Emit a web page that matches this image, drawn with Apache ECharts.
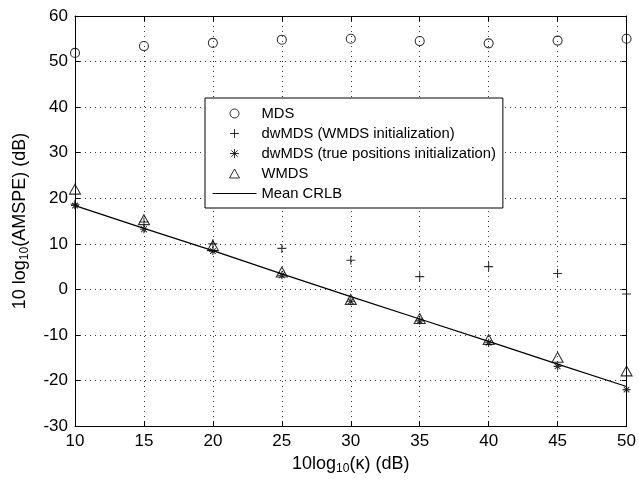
<!DOCTYPE html>
<html><head><meta charset="utf-8">
<script src="https://cdn.jsdelivr.net/npm/echarts@6/dist/echarts.min.js"></script>
<style>html,body{margin:0;padding:0;background:#fff}#c{width:639px;height:480px}</style>
</head><body><div id="c"></div>
<script>
const kappaDb = [10, 15, 20, 25, 30, 35, 40, 45, 50];
const mds = [51.9, 53.4, 54.1, 54.8, 55.0, 54.5, 54.0, 54.6, 55.0];
const dwmdsWmdsInit = [18.7, 14.8, 10.0, 9.0, 6.4, 2.8, 5.0, 3.5, -1.0];
const dwmdsTrueInit = [18.4, 13.2, 8.4, 3.1, -2.6, -6.9, -11.7, -16.9, -22.0];
const wmds = [22.0, 15.3, 9.6, 3.8, -2.2, -6.4, -11.0, -14.9, -17.9];
const meanCrlb = [18.4, 13.4, 8.5, 3.4, -1.6, -6.5, -11.4, -16.4, -21.3];
const seriesNames = ['MDS', 'dwMDS (WMDS initialization)', 'dwMDS (true positions initialization)', 'WMDS', 'Mean CRLB'];

const FONT = 'Liberation Sans, Arial, sans-serif';
const pair = arr => kappaDb.map((k, i) => [k, arr[i]]);
const PLUS = 'path://M5,0L5,10M0,5L10,5';
const STAR = 'path://M5,0L5,10M0,5L10,5M1.5,1.5L8.5,8.5M1.5,8.5L8.5,1.5';
const TRI = 'path://M5,0L10,9L0,9Z';
const hollow = {color: 'none', borderColor: '#000', borderWidth: 1.1};
const legendMark = {color: 'none', borderColor: '#000', borderWidth: 1};

const chart = echarts.init(document.getElementById('c'), null, {renderer: 'canvas'});
const baseAxis = {
  axisLine: {show: true, onZero: false, lineStyle: {color: '#000', width: 1}},
  axisTick: {show: true, inside: true, length: 5, lineStyle: {color: '#000'}},
};
const nameRich = {
  a: {fontSize: 18, fontFamily: FONT, color: '#000', lineHeight: 22},
  s: {fontSize: 12, fontFamily: FONT, color: '#000', lineHeight: 22, verticalAlign: 'bottom', padding: [8, 0, 0, 0]}
};
chart.setOption({
  animation: false,
  backgroundColor: '#fff',
  textStyle: {fontFamily: FONT, color: '#000'},
  grid: {left: 75, right: 12, top: 16, bottom: 51, containLabel: false},
  legend: {
    orient: 'vertical', left: 205, top: 98,
    data: [
      {name: seriesNames[0], itemStyle: legendMark},
      {name: seriesNames[1], itemStyle: legendMark},
      {name: seriesNames[2], itemStyle: legendMark},
      {name: seriesNames[3], icon: TRI, itemStyle: legendMark},
      {name: seriesNames[4], itemStyle: {color: 'rgba(0,0,0,0)', borderColor: 'rgba(0,0,0,0)', borderWidth: 0}, lineStyle: {width: 1, color: '#000'}}
    ],
    itemWidth: 44, itemHeight: 9, itemGap: 5,
    padding: [8, 7, 7, 7],
    backgroundColor: '#fff', borderColor: '#000', borderWidth: 1,
    textStyle: {fontFamily: FONT, fontSize: 14.8, lineHeight: 14, color: '#000', padding: [0, 0, 0, 0]},
    selectedMode: false, z: 10
  },
  xAxis: [
    Object.assign({}, baseAxis, {
      type: 'value', min: 10, max: 50, interval: 5, position: 'bottom',
      axisLabel: {fontSize: 17, color: '#000', margin: 7, fontFamily: FONT},
      splitLine: {show: true, lineStyle: {color: '#333', width: 1, type: [1, 4]}},
      name: '{a|10log}{s|10}{a|(κ) (dB)}', nameLocation: 'middle', nameGap: 24,
      nameTextStyle: {rich: nameRich}
    }),
    Object.assign({}, baseAxis, {
      type: 'value', min: 10, max: 50, interval: 5, position: 'top',
      axisLabel: {show: false}, splitLine: {show: false}
    })
  ],
  yAxis: [
    Object.assign({}, baseAxis, {
      type: 'value', min: -30, max: 60, interval: 10, position: 'left',
      axisLabel: {fontSize: 17, color: '#000', margin: 7, fontFamily: FONT},
      splitLine: {show: true, lineStyle: {color: '#333', width: 1, type: [1, 4]}},
      name: '{a|10 log}{s|10}{a|(AMSPE) (dB)}', nameLocation: 'middle', nameGap: 44,
      nameTextStyle: {rich: nameRich}
    }),
    Object.assign({}, baseAxis, {
      type: 'value', min: -30, max: 60, interval: 10, position: 'right',
      axisLabel: {show: false}, splitLine: {show: false}
    })
  ],
  series: [
    {name: seriesNames[0], type: 'scatter', data: pair(mds), symbol: 'circle', symbolSize: 9, itemStyle: hollow, z: 3},
    {name: seriesNames[1], type: 'scatter', data: pair(dwmdsWmdsInit), symbol: PLUS, symbolSize: 9, symbolKeepAspect: true, itemStyle: hollow, z: 3},
    {name: seriesNames[2], type: 'scatter', data: pair(dwmdsTrueInit), symbol: STAR, symbolSize: 8, symbolKeepAspect: true, itemStyle: hollow, z: 3},
    {name: seriesNames[3], type: 'scatter', data: pair(wmds), symbol: TRI, symbolSize: 11, symbolKeepAspect: true, itemStyle: hollow, z: 3},
    {name: seriesNames[4], type: 'line', data: pair(meanCrlb), symbol: 'none', showSymbol: false, lineStyle: {color: '#000', width: 1.2}, itemStyle: {color: '#000'}, z: 2}
  ]
});
</script></body></html>
